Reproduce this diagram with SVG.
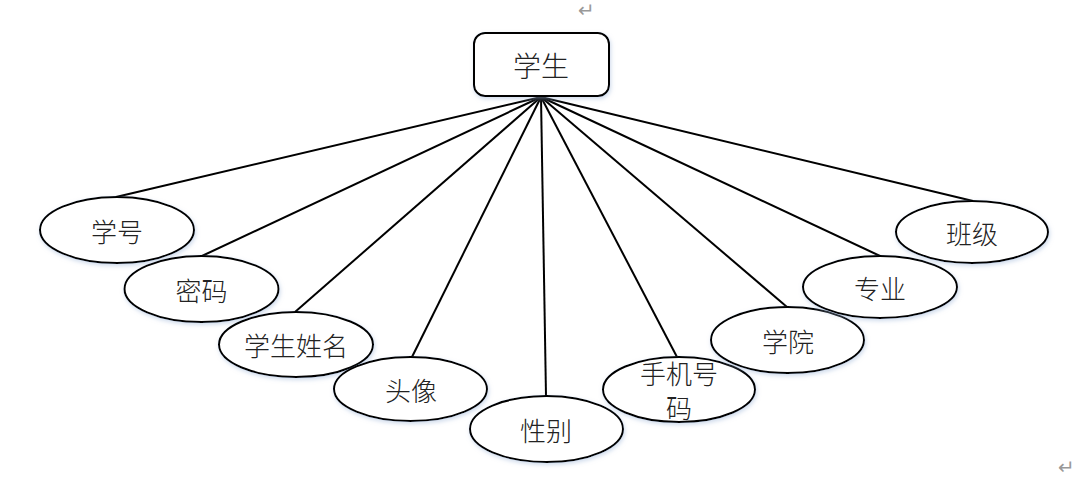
<svg xmlns="http://www.w3.org/2000/svg" width="1092" height="485" viewBox="0 0 1092 485">
<defs>
<filter id="glow" x="-20%" y="-20%" width="140%" height="150%">
<feDropShadow dx="1" dy="2" stdDeviation="2" flood-color="#9fb6d8" flood-opacity="0.5"/>
</filter>
<style>
.e{fill:#fff;stroke:#000;stroke-width:2;filter:url(#glow)}
.b{fill:#fff;stroke:#000;stroke-width:2;filter:url(#glow)}
.t{font-family:"Noto Sans CJK SC","Noto Sans",sans-serif;font-size:26px;fill:#222;text-anchor:middle;dominant-baseline:central;font-weight:300}
.c line{stroke:#000;stroke-width:2}
.m{font-family:"DejaVu Sans",sans-serif;font-size:20px;fill:#999}
</style>
</defs>
<rect width="1092" height="485" fill="#fff"/>
<text class="m" x="578" y="17">↵</text>
<text class="m" x="1058" y="474">↵</text>
<g class="c" id="connectors">
<line x1="541" y1="97" x2="116" y2="197"/>
<line x1="541" y1="97" x2="202" y2="256"/>
<line x1="541" y1="97" x2="295" y2="312"/>
<line x1="541" y1="97" x2="412" y2="357"/>
<line x1="541" y1="97" x2="546" y2="396"/>
<line x1="541" y1="97" x2="677" y2="357"/>
<line x1="541" y1="97" x2="787" y2="307"/>
<line x1="541" y1="97" x2="880" y2="256"/>
<line x1="541" y1="97" x2="973" y2="201"/>
</g>
<g id="student">
<rect class="b" x="474" y="33" width="135" height="63" rx="11"/>
<text class="t" x="541" y="65" style="font-size:28px">学生</text>
</g>
<g id="xuehao"><ellipse class="e" cx="117" cy="230" rx="77" ry="33"/><text class="t" x="117" y="230">学号</text></g>
<g id="mima"><ellipse class="e" cx="201.5" cy="289" rx="77" ry="33"/><text class="t" x="201.5" y="289">密码</text></g>
<g id="xingming"><ellipse class="e" cx="296" cy="344.5" rx="77" ry="32.5"/><text class="t" x="296" y="344">学生姓名</text></g>
<g id="touxiang"><ellipse class="e" cx="410.5" cy="389" rx="76.5" ry="32"/><text class="t" x="411" y="389">头像</text></g>
<g id="xingbie"><ellipse class="e" cx="546.5" cy="429" rx="76.5" ry="33"/><text class="t" x="546" y="429">性别</text></g>
<g id="shouji"><ellipse class="e" cx="679" cy="389.5" rx="76" ry="32.5"/><text class="t" x="679" y="372">手机号</text><text class="t" x="679" y="406">码</text></g>
<g id="xueyuan"><ellipse class="e" cx="787.5" cy="340" rx="76.5" ry="33"/><text class="t" x="788" y="340">学院</text></g>
<g id="zhuanye"><ellipse class="e" cx="880" cy="287" rx="77" ry="31"/><text class="t" x="880" y="287">专业</text></g>
<g id="banji"><ellipse class="e" cx="972" cy="232" rx="76" ry="31"/><text class="t" x="972" y="232">班级</text></g>
</svg>
